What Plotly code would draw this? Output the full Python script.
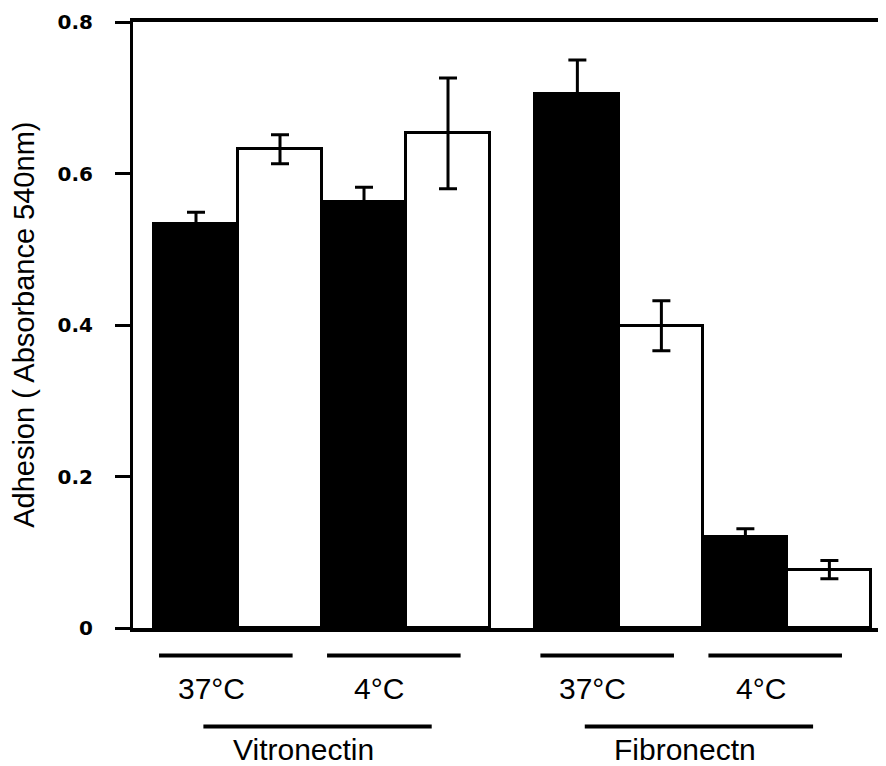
import plotly.graph_objects as go

# conditions along x (substrate, temperature)
substrates = ["Vitronectin", "Fibronectn"]
temperatures = ["37°C", "4°C", "37°C", "4°C"]

# adhesion values (absorbance 540 nm)
black_vals = [0.533, 0.562, 0.705, 0.120]
black_err = [0.016, 0.020, 0.045, 0.011]
white_vals = [0.632, 0.653, 0.399, 0.077]
white_err = [0.019, 0.073, 0.033, 0.012]

y_ticks = [0, 0.2, 0.4, 0.6, 0.8]
y_ticktext = ["0", "0.2", "0.4", "0.6", "0.8"]

FONT = "Arial, Liberation Sans, Helvetica, sans-serif"

# group centres: pairs of temperatures per substrate, with a gap between substrates
GAP = 0.27
group_x = [i + (GAP if i >= 2 else 0) for i in range(len(temperatures))]

fig = go.Figure()

fig.add_trace(go.Bar(
    x=group_x, y=black_vals,
    marker=dict(color="black", line=dict(color="black", width=3)),
    error_y=dict(type="data", array=black_err, color="black", thickness=3, width=9),
    showlegend=False,
))
fig.add_trace(go.Bar(
    x=group_x, y=white_vals,
    marker=dict(color="white", line=dict(color="black", width=3)),
    error_y=dict(type="data", array=white_err, color="black", thickness=3, width=9),
    showlegend=False,
))

# page has an 8px body margin, so the figure is drawn 8px smaller
W, H = 878, 758
TOP, BOTTOM = 14, 138
PLOT_H = H - TOP - BOTTOM


# y paper position for a pixel row (page coordinates) below the plot
def py(pix):
    return (628 - pix) / PLOT_H


shapes = []
annotations = []
for gx, label in zip(group_x, temperatures):
    shapes.append(dict(type="line", xref="x", yref="paper",
                       x0=gx - 0.47, x1=gx + 0.325, y0=py(655.5), y1=py(655.5),
                       line=dict(color="black", width=4)))
    annotations.append(dict(x=gx - 0.16, y=py(688), xref="x", yref="paper",
                            text=label, showarrow=False, xanchor="center", yanchor="middle",
                            font=dict(family=FONT, size=30, color="black")))

for k, name in enumerate(substrates):
    mid = (group_x[2 * k] + group_x[2 * k + 1]) / 2
    shapes.append(dict(type="line", xref="x", yref="paper",
                       x0=mid - 0.706, x1=mid + 0.653, y0=py(726.5), y1=py(726.5),
                       line=dict(color="black", width=4)))
    annotations.append(dict(x=mid - 0.11, y=py(749), xref="x", yref="paper",
                            text=name, showarrow=False, xanchor="center", yanchor="middle",
                            font=dict(family=FONT, size=30, color="black")))

annotations.append(dict(x=-0.145, y=0.5, xref="paper", yref="paper",
                        text="Adhesion ( Absorbance 540nm)", textangle=-90,
                        showarrow=False, xanchor="center", yanchor="middle",
                        font=dict(family=FONT, size=29, color="black")))

fig.update_layout(
    width=W, height=H,
    margin=dict(l=125, r=0, t=TOP, b=BOTTOM),
    paper_bgcolor="white", plot_bgcolor="white",
    barmode="group", bargap=0, bargroupgap=0,
    shapes=shapes, annotations=annotations,
    font=dict(family=FONT, color="black"),
)
fig.update_xaxes(
    range=[-0.625, 3.857], showgrid=False, zeroline=False,
    showline=True, linecolor="black", linewidth=4, mirror=True,
    showticklabels=False, ticks="",
)
fig.update_yaxes(
    range=[0, 0.8], showgrid=False, zeroline=False,
    showline=True, linecolor="black", linewidth=3,
    tickvals=y_ticks, ticktext=y_ticktext,
    ticks="outside", ticklen=15, tickwidth=3, tickcolor="black",
    ticklabelstandoff=18,
    tickfont=dict(family="DejaVu Sans", size=20, color="black", weight="bold"),
)

fig.write_html("out.html")
